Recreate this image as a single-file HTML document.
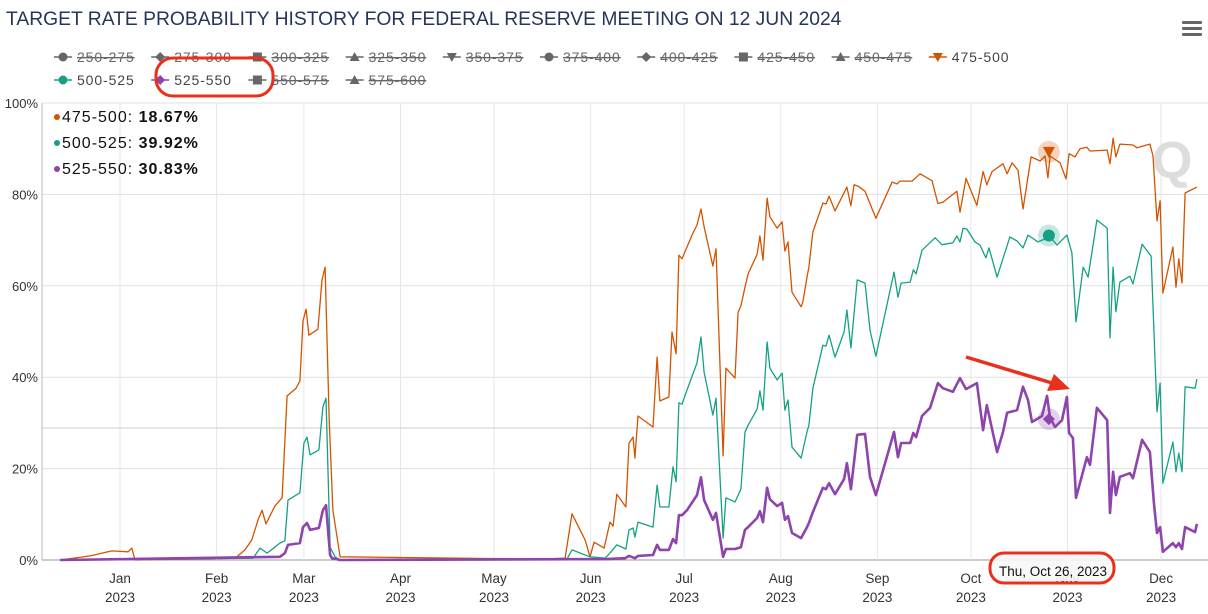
<!DOCTYPE html>
<html><head><meta charset="utf-8">
<style>
body{margin:0;background:#fff;width:1208px;height:614px;overflow:hidden;font-family:"Liberation Sans",sans-serif;}
svg{display:block}
</style></head>
<body>
<svg id="chart" width="1208" height="614" xmlns="http://www.w3.org/2000/svg">
<text x="6" y="25" font-size="19.3" fill="#24365a">TARGET RATE PROBABILITY HISTORY FOR FEDERAL RESERVE MEETING ON 12 JUN 2024</text>
<g fill="#666"><rect x="1182" y="21" width="20" height="3" rx="1"/><rect x="1182" y="27" width="20" height="3" rx="1"/><rect x="1182" y="33" width="20" height="3" rx="1"/></g>
<g id="legend"></g>
<g id="grid"></g>
<text x="1152" y="178" font-size="52" font-weight="bold" fill="#ddd">Q</text>
<g id="series"></g>
<g id="overlay"></g>
</svg>
<script>
const ordDays=[-19.2,-9.6,-2.6,2.6,3.8,4.8,36.9,40.1,42.3,44.3,45.6,46.8,49.7,52.0,53.6,56.5,57.7,58.7,59.7,60.6,63.5,64.8,65.8,67.1,68.3,70.6,134.7,142.8,145.0,149.2,150.8,152.1,155.3,157.2,158.2,159.4,162.3,163.3,164.6,165.2,166.2,171.0,172.3,173.2,176.1,177.1,178.4,179.3,180.3,183.5,185.1,186.4,187.4,190.2,191.2,193.5,194.4,197.3,198.3,199.2,200.5,201.5,204.4,205.3,206.3,207.6,208.5,210.8,212.4,213.3,214.3,215.6,218.5,219.1,220.4,221.0,222.3,225.5,226.5,227.5,229.4,233.2,234.5,235.5,236.8,239.0,242.5,247.7,249.3,250.2,254.1,256.7,260.5,262.4,264.0,268.5,269.5,271.4,274.9,276.9,278.1,279.8,283.3,284.6,286.2,288.1,289.7,292.3,295.2,296.8,297.7,298.4,301.6,303.5,304.5,306.4,308.0,310.2,311.2,316.7,317.6,318.6,319.5,320.8,325.0,326.3,330.4,331.4,332.7,333.7,334.6,337.8,338.8,339.7,340.7,341.7,345.5];
const ordVals=[0,0.9,2.0,1.8,2.6,0,0.4,2.2,4.4,8.8,10.9,7.9,11.8,13.6,35.9,37.6,39.2,52.3,54.9,49.2,50.5,61.3,64.1,30.6,10.9,0.7,0.2,0.4,10.1,4.4,0.7,3.9,2.6,8.3,7.4,14.4,11.6,25.6,26.9,22.3,31.5,29.1,44.4,34.8,35.7,49.9,45.1,66.7,65.9,71.1,73.3,76.8,72.9,64.3,68.1,22.8,42.0,39.8,54.2,55.6,59.7,62.6,66.9,70.9,65.6,79.2,75.1,72.6,74.0,67.6,69.6,58.6,55.4,56.5,61.9,64.1,71.8,78.1,77.9,79.6,76.4,81.6,77.5,82.1,81.8,80.7,74.8,82.7,82.3,82.9,82.9,84.5,83.0,78.0,78.3,80.7,76.1,83.5,77.6,85.0,82.1,85.0,86.7,84.5,86.9,85.3,76.8,88.2,87.3,88.4,83.6,88.4,86.9,83.4,88.9,88.2,90.0,90.3,89.5,89.7,86.7,92.3,88.2,91.0,90.8,90.2,91.0,88.4,74.2,78.6,58.4,68.5,59.7,65.9,60.6,80.3,81.6];
const tealDays=[-19.2,42.7,44.9,47.2,51.3,52.9,53.9,57.7,59.0,60.0,61.0,63.8,65.1,66.1,67.4,69.0,70.6,134.7,143.4,145.0,150.8,155.6,157.2,159.4,162.3,163.3,164.6,165.2,166.2,171.0,172.3,173.2,176.1,177.4,178.4,179.3,180.3,181.9,185.1,186.4,187.4,190.2,191.2,193.5,194.4,197.3,199.2,200.5,201.5,204.4,205.3,206.3,207.6,208.5,210.8,212.4,213.3,214.3,215.6,218.5,220.4,221.0,222.3,225.5,226.5,227.5,229.4,232.3,233.2,234.5,236.5,239.0,240.6,242.5,248.3,249.6,250.6,253.5,254.5,255.4,257.3,261.5,263.7,267.2,268.5,269.5,270.5,271.7,274.3,275.9,277.8,278.8,281.4,285.5,287.8,289.7,291.3,294.5,298.4,300.6,303.8,305.4,306.7,309.0,310.6,313.4,316.7,317.6,318.6,319.5,320.8,324.0,325.0,327.9,330.8,332.7,333.7,334.6,337.8,338.8,339.7,340.7,341.7,344.9,345.5];
const tealVals=[0,0.4,2.6,1.5,3.7,4.2,13.1,14.7,25.6,26.9,23.0,24.1,33.5,35.4,2.8,0.7,0,0.2,0.2,2.2,0.7,0.4,1.5,3.3,2.4,6.6,7.0,5.0,8.3,7.2,16.4,11.6,11.6,20.4,17.1,34.4,34.1,37.2,43.1,48.8,41.1,31.7,35.4,4.8,13.6,12.7,15.5,28.0,29.5,33.0,37.0,32.8,47.7,42.0,39.4,40.9,32.8,35.0,24.7,22.3,28.0,29.5,37.6,47.0,46.8,49.2,44.4,49.9,54.7,46.4,61.3,60.6,50.3,44.6,63.0,57.5,60.6,60.8,63.5,62.6,67.8,70.5,69.0,69.4,70.9,69.6,72.6,72.4,69.6,68.9,66.1,68.3,61.9,70.7,69.8,68.3,71.1,69.6,70.7,68.9,71.1,67.2,52.1,64.1,61.9,74.4,72.6,48.6,64.1,54.3,60.8,62.1,60.4,69.1,66.5,32.4,38.7,16.8,25.8,19.3,23.4,19.3,37.9,37.6,39.6];
const purpDays=[-19.2,51.3,52.9,53.9,57.7,58.7,60.0,61.0,63.8,65.1,66.1,67.4,68.0,70.6,156.2,162.0,163.3,165.2,166.2,171.0,172.3,173.2,176.1,177.4,178.4,179.3,180.3,181.9,185.1,186.4,187.4,190.2,191.2,193.5,194.4,197.3,199.2,200.5,201.5,204.4,205.3,206.3,207.6,208.5,210.8,212.4,213.3,214.3,215.6,218.5,220.4,221.0,222.3,225.5,226.5,227.5,229.4,232.3,233.2,234.5,236.5,239.0,240.6,242.5,248.3,249.6,250.6,253.5,254.5,255.4,257.3,259.9,262.4,264.0,267.2,269.5,271.4,274.9,276.9,278.1,281.4,283.3,284.6,287.8,289.7,291.3,292.6,295.8,297.4,298.4,300.0,302.2,303.8,304.5,305.7,306.7,310.2,311.2,313.4,316.7,317.6,318.6,319.5,320.8,324.0,325.0,327.9,330.4,331.7,332.7,333.7,334.6,337.8,338.8,339.7,340.7,341.7,344.9,345.5];
const purpVals=[0,0.7,1.5,3.3,3.7,7.2,8.1,6.6,7.0,10.9,12.0,1.1,0.4,0,0.2,0.4,0.9,0.4,0.9,1.1,3.3,2.2,2.2,4.6,3.7,9.8,9.8,10.9,14.2,18.1,13.1,8.8,10.3,0.7,2.4,2.4,2.8,6.6,7.2,9.2,10.7,8.3,15.8,13.3,11.8,12.5,8.8,9.6,5.9,4.8,7.2,8.1,10.5,15.8,15.5,16.8,14.4,17.7,21.2,15.5,27.4,27.6,18.2,14.2,28.0,22.5,25.6,25.6,27.8,26.9,31.5,33.3,38.7,37.6,36.8,39.8,37.4,38.7,28.4,33.9,23.6,28.0,32.2,32.8,37.9,35.0,30.2,31.5,35.9,31.1,29.1,30.6,35.7,27.8,26.7,13.6,22.5,20.8,33.3,30.6,10.3,19.3,14.2,18.2,19.0,17.9,26.3,23.6,12.5,5.9,7.2,1.8,3.7,2.8,3.7,2.4,7.2,6.1,7.9];
const yTicks=[0,20,40,60,80,100];
const monthNames=["Jan","Feb","Mar","Apr","May","Jun","Jul","Aug","Sep","Oct","Nov","Dec"];
const monthDays=[0,31,59,90,120,151,181,212,243,273,304,334];
const legendRow1=["250-275","275-300","300-325","325-350","350-375","375-400","400-425","425-450","450-475","475-500"];
const legendRow2=["500-525","525-550","550-575","575-600"];
const hoverDay=298;
const hoverVals=[89.3,71.0,30.83];

const NS="http://www.w3.org/2000/svg";
const X0=120,XK=3.117,Y0=560,YK=4.57,PL=42,PR=1208;
const xS=d=>X0+d*XK, yS=v=>Y0-v*YK;
function mk(tag,attrs,parent,txt){const e=document.createElementNS(NS,tag);for(const k in attrs)e.setAttribute(k,attrs[k]);if(txt!==undefined)e.textContent=txt;parent.appendChild(e);return e;}
const grid=document.getElementById('grid');
yTicks.forEach(t=>{
  const l=mk('line',{x1:PL,x2:PR,y1:yS(t),y2:yS(t),stroke:t===0?'#999':'#e0e0e0','stroke-width':1},grid);
  
  
  const tx=mk('text',{x:38,y:yS(t)+5,'text-anchor':'end','font-size':13,fill:'#333'},grid,t+'%');
  
  
});
mk('line',{x1:PL,x2:PL,y1:yS(100),y2:Y0,stroke:'#bbb'},grid);
monthDays.forEach((d,i)=>{
  const x=xS(d);
  const l=mk('line',{x1:x,x2:x,y1:yS(100),y2:Y0,stroke:'#e6e6e6'},grid);
  
  
  const t1=mk('text',{x:x,y:583,'text-anchor':'middle','font-size':13.5,fill:'#333'},grid,monthNames[i]);
  
  
  const t2=mk('text',{x:x,y:602,'text-anchor':'middle','font-size':13.5,fill:'#333'},grid,'2023');
  
  
});
const crossY=428;
const ch=mk('line',{x1:PL,x2:PR,y1:crossY,y2:crossY,stroke:'#ccc'},grid);



const ser=document.getElementById('series');
function line(days,vals,color,w,name){
  const pts=days.map((d,i)=>xS(d).toFixed(1)+','+yS(vals[i]).toFixed(1)).join(' ');
  const p=mk('polyline',{points:pts,fill:'none',stroke:color,'stroke-width':w,'stroke-linejoin':'round'},ser);
  
  
}
line(ordDays,ordVals,'#d35400',1.3,'series-475-500');
line(tealDays,tealVals,'#16a085',1.3,'series-500-525');
line(purpDays,purpVals,'#8e44ad',2.6,'series-525-550');

const ov=document.getElementById('overlay');
const hx=xS(hoverDay);
const colors=['#d35400','#16a085','#8e44ad'];
colors.forEach((c,i)=>{
  const y=yS(hoverVals[i]);
  mk('circle',{cx:hx,cy:y,r:11,fill:c,opacity:0.25},ov);
  let m;
  if(i===0)m=mk('path',{d:`M${hx-6},${y-5} L${hx+6},${y-5} L${hx},${y+6} Z`,fill:c},ov);
  else if(i===1)m=mk('circle',{cx:hx,cy:y,r:6,fill:c},ov);
  else m=mk('path',{d:`M${hx},${y-6} L${hx+6},${y} L${hx},${y+6} L${hx-6},${y} Z`,fill:c},ov);
  
  
});
const tipNames=['475-500','500-525','525-550'];
const tipVals=['18.67%','39.92%','30.83%'];
tipNames.forEach((n,i)=>{
  const y=122+i*26;
  mk('circle',{cx:57,cy:y-5,r:3,fill:colors[i]},ov);
  const t=mk('text',{x:62,y:y,'font-size':16,'letter-spacing':1,fill:'#111'},ov);
  
  
  mk('tspan',{},t,n+': ');
  mk('tspan',{'font-weight':'bold'},t,tipVals[i]);
});
const lg=document.getElementById('legend');
function legItem(x,y,label,shape,color,hidden){
  const g=mk('g',{},lg);
  
  
  mk('line',{x1:x-9,x2:x+9,y1:y,y2:y,stroke:color,'stroke-width':1.5},g);
  if(shape==0)mk('circle',{cx:x,cy:y,r:4.5,fill:color},g);
  else if(shape==1)mk('path',{d:`M${x},${y-5} L${x+5},${y} L${x},${y+5} L${x-5},${y} Z`,fill:color},g);
  else if(shape==2)mk('rect',{x:x-4.5,y:y-4.5,width:9,height:9,fill:color},g);
  else if(shape==3)mk('path',{d:`M${x},${y-5} L${x+5},${y+4} L${x-5},${y+4} Z`,fill:color},g);
  else mk('path',{d:`M${x-5},${y-4} L${x+5},${y-4} L${x},${y+5} Z`,fill:color},g);
  mk('text',{x:x+14,y:y+5,'font-size':14,'letter-spacing':0.9,fill:hidden?'#666':'#444','text-decoration':hidden?'line-through':'none'},g,label);
}
legendRow1.forEach((l,i)=>{const last=i===9;legItem(63+i*97.2,57,l,last?4:i%5,last?'#d35400':'#666',!last);});
legendRow2.forEach((l,i)=>{const sh=[0,1,2,3][i];const c=i===0?'#16a085':i===1?'#8e44ad':'#666';legItem(63+i*97.2,80,l,sh,c,i>1);});
const e1=mk('rect',{x:156,y:58,width:117,height:38,rx:17,fill:'none',stroke:'#e8301c','stroke-width':3},ov);


mk('rect',{x:993,y:555,width:120,height:26,fill:'#f7f7f7',opacity:0.9},ov);
const tt=mk('text',{x:1053,y:576,'text-anchor':'middle','font-size':13.5,fill:'#111'},ov,'Thu, Oct 26, 2023');


const e2=mk('rect',{x:990,y:553,width:124,height:30,rx:14,fill:'none',stroke:'#e8301c','stroke-width':3},ov);


const ar=mk('g',{},ov);


mk('line',{x1:966,y1:357,x2:1052,y2:383,stroke:'#e8301c','stroke-width':3.5},ar);
mk('path',{d:'M1070,389 L1047,391 L1054,374 Z',fill:'#e8301c'},ar);
</script>
</body></html>
